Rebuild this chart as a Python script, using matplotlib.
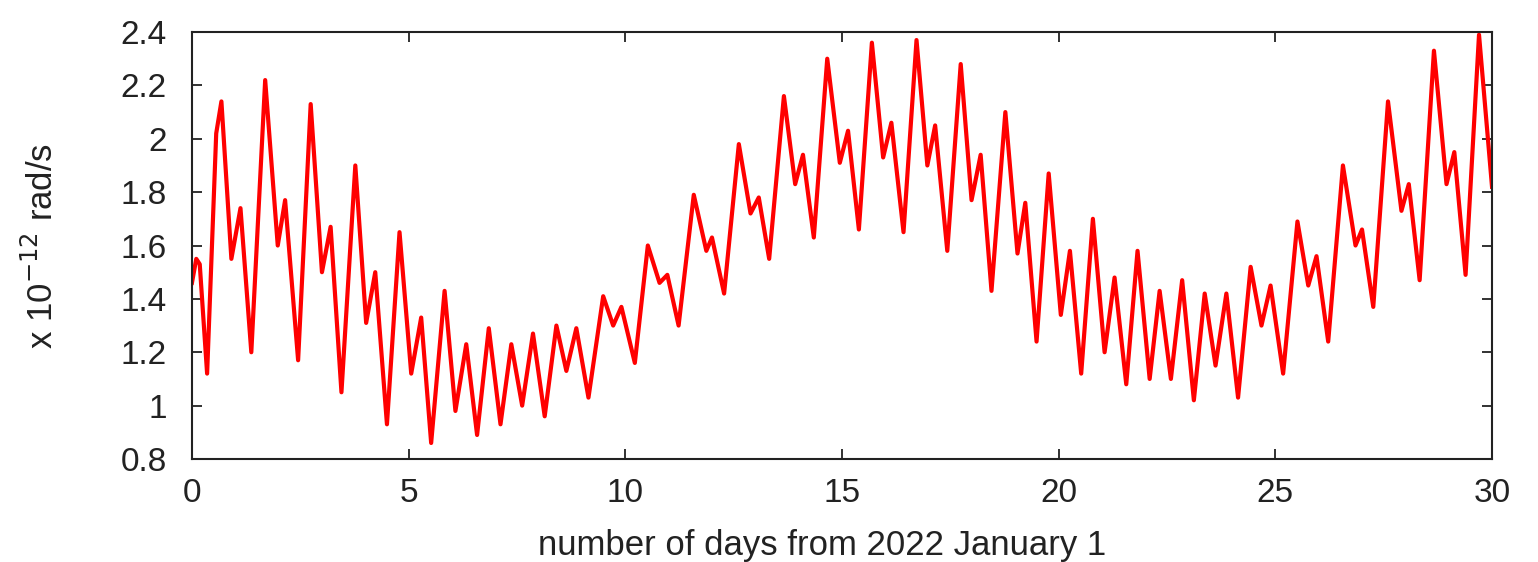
import matplotlib
matplotlib.use("Agg")
import matplotlib.pyplot as plt

# turning points (days since 2022-01-01, value in 1e-12 rad/s)
days = [0.00, 0.10, 0.18, 0.35, 0.56, 0.68, 0.91, 1.12, 1.37, 1.69,
        1.98, 2.15, 2.45, 2.74, 3.00, 3.20, 3.45, 3.77, 4.02, 4.23,
        4.50, 4.79, 5.06, 5.29, 5.52, 5.83, 6.08, 6.33, 6.58, 6.85,
        7.12, 7.37, 7.62, 7.87, 8.14, 8.41, 8.64, 8.87, 9.15, 9.49,
        9.72, 9.91, 10.22, 10.52, 10.79, 10.97, 11.23, 11.58, 11.87, 12.00,
        12.28, 12.62, 12.89, 13.08, 13.32, 13.66, 13.92, 14.10, 14.35, 14.66,
        14.95, 15.14, 15.39, 15.69, 15.95, 16.14, 16.42, 16.72, 16.97, 17.15,
        17.43, 17.74, 17.99, 18.20, 18.45, 18.77, 19.05, 19.23, 19.49, 19.77,
        20.05, 20.26, 20.52, 20.79, 21.06, 21.29, 21.56, 21.82, 22.10, 22.33,
        22.59, 22.85, 23.12, 23.37, 23.62, 23.87, 24.14, 24.43, 24.68, 24.89,
        25.18, 25.51, 25.76, 25.95, 26.22, 26.56, 26.85, 27.00, 27.26, 27.60,
        27.91, 28.08, 28.33, 28.66, 28.95, 29.13, 29.39, 29.70, 30.00]
rate = [1.46, 1.55, 1.53, 1.12, 2.02, 2.14, 1.55, 1.74, 1.20, 2.22,
        1.60, 1.77, 1.17, 2.13, 1.50, 1.67, 1.05, 1.90, 1.31, 1.50,
        0.93, 1.65, 1.12, 1.33, 0.86, 1.43, 0.98, 1.23, 0.89, 1.29,
        0.93, 1.23, 1.00, 1.27, 0.96, 1.30, 1.13, 1.29, 1.03, 1.41,
        1.30, 1.37, 1.16, 1.60, 1.46, 1.49, 1.30, 1.79, 1.58, 1.63,
        1.42, 1.98, 1.72, 1.78, 1.55, 2.16, 1.83, 1.94, 1.63, 2.30,
        1.91, 2.03, 1.66, 2.36, 1.93, 2.06, 1.65, 2.37, 1.90, 2.05,
        1.58, 2.28, 1.77, 1.94, 1.43, 2.10, 1.57, 1.76, 1.24, 1.87,
        1.34, 1.58, 1.12, 1.70, 1.20, 1.48, 1.08, 1.58, 1.10, 1.43,
        1.10, 1.47, 1.02, 1.42, 1.15, 1.42, 1.03, 1.52, 1.30, 1.45,
        1.12, 1.69, 1.45, 1.56, 1.24, 1.90, 1.60, 1.66, 1.37, 2.14,
        1.73, 1.83, 1.47, 2.33, 1.83, 1.95, 1.49, 2.39, 1.82]

xticks = [0, 5, 10, 15, 20, 25, 30]
yticks = [0.8, 1.0, 1.2, 1.4, 1.6, 1.8, 2.0, 2.2, 2.4]
ylabels = ["0.8", "1", "1.2", "1.4", "1.6", "1.8", "2", "2.2", "2.4"]

plt.rcParams['font.family'] = ['Liberation Sans', 'DejaVu Sans']

fig = plt.figure(figsize=(15.38, 5.62), dpi=100)
ax = fig.add_axes([0.1248, 0.1833, 0.8453, 0.7597])

ax.plot(days, rate, color='red', lw=3.0, solid_joinstyle='round')

ax.set_xlim(0, 30)
ax.set_ylim(0.8, 2.4)
ax.set_xticks(xticks)
ax.set_yticks(yticks)
ax.set_yticklabels(ylabels)
ax.tick_params(direction='in', length=7, width=1.3, top=True, right=True,
               labelsize=24, colors='#222222')
ax.tick_params(axis='x', pad=14)
ax.tick_params(axis='y', pad=18)
for s in ax.spines.values():
    s.set_linewidth(1.5)
    s.set_color('#222222')

ax.set_xlabel("number of days from 2022 January 1", fontsize=25, color='#222222')
ax.set_ylabel("x 10$^{-12}$ rad/s", fontsize=25, color='#222222')
ax.xaxis.set_label_coords(0.485, -0.163)
ax.yaxis.set_label_coords(-0.1015, 0.5)

fig.savefig("out.png", dpi=100)
